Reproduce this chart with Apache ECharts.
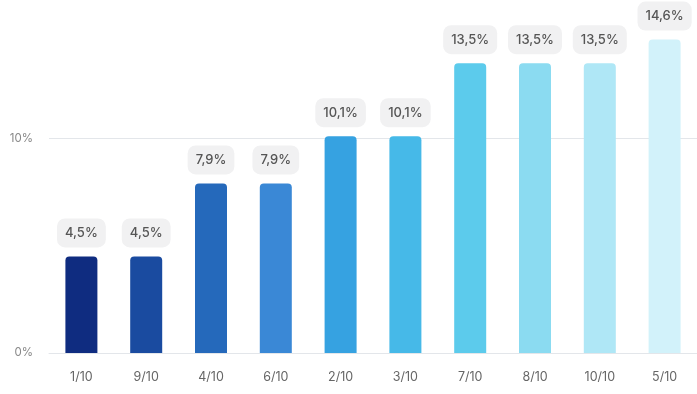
<!DOCTYPE html>
<html>
<head>
<meta charset="utf-8">
<script src="https://cdn.jsdelivr.net/npm/echarts@6/dist/echarts.min.js"></script>
<style>
html,body{margin:0;padding:0;background:#fff;}
#chart{width:697px;height:394px;}
</style>
</head>
<body>
<div id="chart"></div>
<script>
const categories = ['1/10','9/10','4/10','6/10','2/10','3/10','7/10','8/10','10/10','5/10'];
const values = [4.5, 4.5, 7.9, 7.9, 10.1, 10.1, 13.5, 13.5, 13.5, 14.6];
const barColors = ['#0f2c80','#1a4ba0','#2569bb','#3a88d6','#36a2e1','#46b9e8','#5ccbec','#8bdbf1','#afe7f6','#d2f2fa'];
const yTickLabels = [0, 10];

const chart = echarts.init(document.getElementById('chart'), null, {renderer:'canvas'});
chart.setOption({
  animation: false,
  grid: {left: 49, width: 653, top: 31, height: 322, containLabel: false},
  xAxis: {
    type: 'category',
    data: categories,
    axisLine: {lineStyle: {color: '#e3e6ea'}},
    axisTick: {show: false},
    axisLabel: {color: '#666', fontSize: 12.5, fontFamily: 'Inter', margin: 18}
  },
  yAxis: {
    type: 'value',
    min: 0, max: 15, interval: 5,
    axisLine: {show: false},
    axisTick: {show: false},
    splitLine: {lineStyle: {color: ['#e3e6ea', 'rgba(0,0,0,0)', '#e3e6ea', 'rgba(0,0,0,0)']}},
    axisLabel: {color: '#888', fontSize: 11.5, fontFamily: 'Inter', margin: 16,
      formatter: v => yTickLabels.includes(v) ? v + '%' : ''}
  },
  series: [{
    type: 'bar',
    barWidth: 32,
    data: values.map((v,i) => ({value: v, itemStyle: {color: barColors[i]}})),
    itemStyle: {borderRadius: [4,4,0,0]},
    label: {
      show: true,
      position: 'top',
      distance: 9,
      formatter: p => String(p.value).replace('.', ',') + '%',
      color: '#555',
      fontSize: 13,
      fontWeight: 500,
      fontFamily: 'Inter',
      backgroundColor: '#f1f1f2',
      borderRadius: 8,
      padding: [8, 8]
    }
  }]
});
</script>
</body>
</html>
